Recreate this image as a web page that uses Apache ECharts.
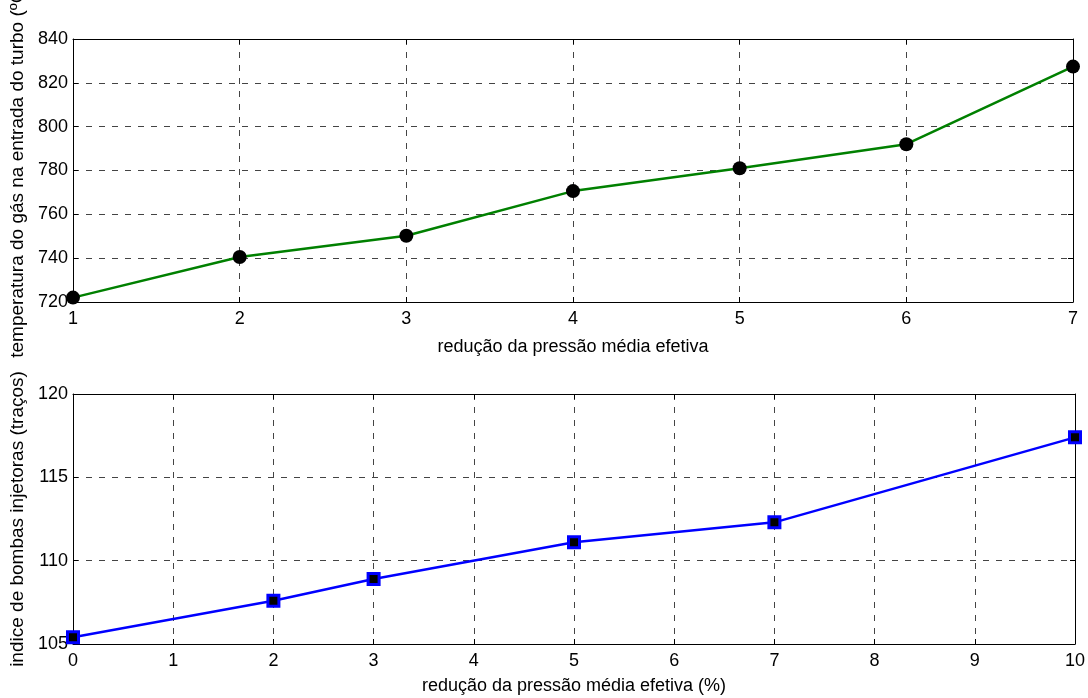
<!DOCTYPE html>
<html>
<head>
<meta charset="utf-8">
<script src="https://cdn.jsdelivr.net/npm/echarts@6/dist/echarts.min.js"></script>
<style>
  html, body { margin: 0; padding: 0; background: #fff; }
  #chart { width: 1088px; height: 698px; }
</style>
</head>
<body>
<div id="chart"></div>
<script>
// Upper panel: gas temperature at turbocharger inlet
const tempX = [1, 2, 3, 4, 5, 6, 7];
const tempY = [722, 740.5, 750.2, 770.6, 781, 792, 827.4];

// Lower panel: fuel injection pump index
const pumpX = [0, 2, 3, 5, 7, 10];
const pumpY = [105.4, 107.6, 108.9, 111.1, 112.3, 117.4];

const topXName = 'redução da pressão média efetiva';
const topYName = 'temperatura do gás na entrada do turbo (ºC)';
const botXName = 'redução da pressão média efetiva (%)';
const botYName = 'indice de bombas injetoras (traços)';

const FONT = '"Liberation Sans", Arial, sans-serif';
const gridDash = { color: '#444', type: [6, 7], width: 1 };

function mainX(gridIndex, min, max, name, nameGap) {
  return {
    type: 'value', gridIndex, min, max, interval: 1,
    name, nameLocation: 'middle', nameGap,
    nameTextStyle: { fontFamily: FONT, fontSize: 18, color: '#000' },
    axisLine: { show: true, onZero: false, lineStyle: { color: '#000', width: 1 } },
    axisTick: { show: true, inside: true, length: 5, lineStyle: { color: '#000' } },
    axisLabel: { fontFamily: FONT, fontSize: 18, color: '#000', margin: 8 },
    splitLine: { show: true, lineStyle: gridDash }
  };
}
function mirrorX(gridIndex, min, max) {
  return {
    type: 'value', gridIndex, min, max, interval: 1, position: 'top',
    axisLine: { show: true, onZero: false, lineStyle: { color: '#000', width: 1 } },
    axisTick: { show: true, inside: true, length: 5, lineStyle: { color: '#000' } },
    axisLabel: { show: false }, splitLine: { show: false }
  };
}
function mainY(gridIndex, min, max, interval, name, nameGap) {
  return {
    type: 'value', gridIndex, min, max, interval,
    name, nameLocation: 'middle', nameGap, nameRotate: 90,
    nameTextStyle: { fontFamily: FONT, fontSize: 19, color: '#000' },
    axisLine: { show: true, onZero: false, lineStyle: { color: '#000', width: 1 } },
    axisTick: { show: true, inside: true, length: 5, lineStyle: { color: '#000' } },
    axisLabel: { fontFamily: FONT, fontSize: 18, color: '#000', margin: 5 },
    splitLine: { show: true, lineStyle: gridDash }
  };
}
function mirrorY(gridIndex, min, max, interval) {
  return {
    type: 'value', gridIndex, min, max, interval, position: 'right',
    axisLine: { show: true, onZero: false, lineStyle: { color: '#000', width: 1 } },
    axisTick: { show: true, inside: true, length: 5, lineStyle: { color: '#000' } },
    axisLabel: { show: false }, splitLine: { show: false }
  };
}

const chart = echarts.init(document.getElementById('chart'), null, { renderer: 'canvas' });
chart.setOption({
  backgroundColor: '#fff',
  animation: false,
  grid: [
    { left: 73, top: 39, width: 1000, height: 263, outerBoundsMode: 'none', containLabel: false },
    { left: 73, top: 394, width: 1002, height: 250, outerBoundsMode: 'none', containLabel: false }
  ],
  xAxis: [
    mainX(0, 1, 7, topXName, 36),
    mirrorX(0, 1, 7),
    mainX(1, 0, 10, botXName, 33),
    mirrorX(1, 0, 10)
  ],
  yAxis: [
    mainY(0, 720, 840, 20, topYName, 46),
    mirrorY(0, 720, 840, 20),
    mainY(1, 105, 120, 5, botYName, 46),
    mirrorY(1, 105, 120, 5)
  ],
  series: [
    {
      type: 'line', xAxisIndex: 0, yAxisIndex: 0,
      data: tempX.map((x, i) => [x, tempY[i]]),
      lineStyle: { color: '#008000', width: 2.5 },
      symbol: 'circle', symbolSize: 14,
      itemStyle: { color: '#000', borderWidth: 0 },
      clip: false, z: 5
    },
    {
      type: 'line', xAxisIndex: 2, yAxisIndex: 2,
      data: pumpX.map((x, i) => [x, pumpY[i]]),
      lineStyle: { color: '#0000ff', width: 2.5 },
      symbol: 'rect', symbolSize: 11,
      itemStyle: { color: '#000', borderColor: '#0000ff', borderWidth: 3 },
      clip: false, z: 5
    }
  ]
});
</script>
</body>
</html>
